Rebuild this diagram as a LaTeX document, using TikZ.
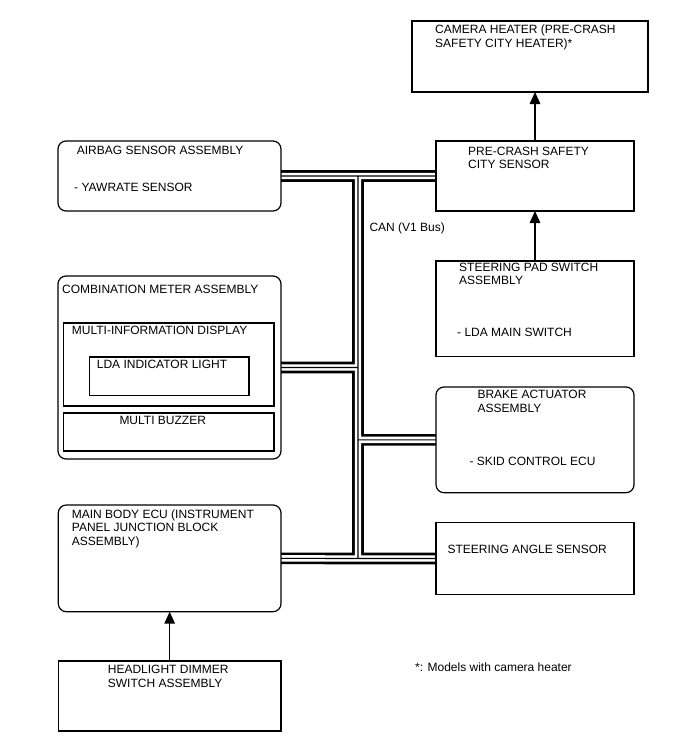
\documentclass[tikz,border=0pt]{standalone}
\usepackage{fontspec}
\setmainfont{Liberation Sans}
\usetikzlibrary{arrows.meta,calc,backgrounds}

\newcommand{\boxfont}{\fontsize{12}{13.4}\selectfont}
\tikzset{
  box/.style={draw, line width=1.2pt, anchor=north west, inner sep=0pt, outer sep=0pt},
  rbox/.style={box, rounded corners=8pt},
  ibox/.style={box, line width=1.6pt},
  txt/.style={anchor=north west, inner sep=0pt, align=left, font=\boxfont},
  arr/.style={-{Triangle[width=10.5pt,length=12pt]}, line width=1.6pt},
}

\begin{document}
\begin{tikzpicture}[x=1pt,y=-1pt]
  \useasboundingbox (0,0) rectangle (688,755);
  % units boxes
  \node[box, minimum width=236pt, minimum height=71pt] (cam) at (412,21) {};
  \node[box, minimum width=198pt, minimum height=70pt] (pre) at (436,141) {};
  \node[rbox, minimum width=223pt, minimum height=70pt] (air) at (58,141) {};
  \node[box, minimum width=198pt, minimum height=95.7pt] (pad) at (436,261) {};
  \node[rbox, minimum width=223pt, minimum height=183pt] (cm) at (58,276) {};
  \node[ibox, minimum width=210.7pt, minimum height=83pt] (mid) at (63.3,322.7) {};
  \node[ibox, minimum width=159.7pt, minimum height=38.6pt] (lda) at (89.3,356.7) {};
  \node[ibox, minimum width=210.7pt, minimum height=38.3pt] (buz) at (63.3,412.7) {};
  \node[rbox, minimum width=198pt, minimum height=105.7pt] (brk) at (436,387) {};
  \node[box, minimum width=198pt, minimum height=71.6pt] (sas) at (436,522.7) {};
  \node[rbox, minimum width=222.7pt, minimum height=106.7pt] (ecu) at (58.3,505) {};
  \node[box, minimum width=222.7pt, minimum height=70pt] (dim) at (58.3,661) {};

  % texts
  \node[txt] (cam-t) at (435,25) {CAMERA HEATER (PRE-CRASH\\SAFETY CITY HEATER)*};
  \node[txt] (pre-t) at (468,146.5) {PRE-CRASH SAFETY\\CITY SENSOR};
  \node[txt] (air-t) at (76.7,145.5) {AIRBAG SENSOR ASSEMBLY};
  \node[txt] (air-s) at (74,183) {- YAWRATE SENSOR};
  \node[txt] (can-t) at (369.3,222.2) {CAN (V1 Bus)};
  \node[txt] (pad-t) at (459,263) {STEERING PAD SWITCH\\ASSEMBLY};
  \node[txt] (pad-s) at (457,327.5) {- LDA MAIN SWITCH};
  \node[txt] (cm-t) at (62,284.5) {COMBINATION METER ASSEMBLY};
  \node[txt] (mid-t) at (71.7,326.2) {MULTI-INFORMATION DISPLAY};
  \node[txt] (lda-t) at (96.7,360.2) {LDA INDICATOR LIGHT};
  \node[txt] (buz-t) at (119.3,416.2) {MULTI BUZZER};
  \node[txt] (brk-t) at (477.3,390.2) {BRAKE ACTUATOR\\ASSEMBLY};
  \node[txt] (brk-s) at (469.3,456.8) {- SKID CONTROL ECU};
  \node[txt] (sas-t) at (447.3,545.2) {STEERING ANGLE SENSOR};
  \node[txt] (ecu-t) at (71.7,509.5) {MAIN BODY ECU (INSTRUMENT\\PANEL JUNCTION BLOCK\\ASSEMBLY)};
  \node[txt] (dim-t) at (107.7,665.2) {HEADLIGHT DIMMER\\SWITCH ASSEMBLY};
  \node[txt] (note) at (415,662.2) {*: Models with camera heater};

  % signal arrows
  \draw[arr] (dim.north) -- (ecu.south);
  \draw[arr] (pad.north) -- (pre.south);
  \draw[arr] (pre.north) -- (pre.north |- cam.south);

  % CAN bus
  \coordinate (trk) at (358,0);
  \begin{scope}[on background layer]
    \foreach \lw/\col in {11.7pt/black, 6.3pt/white, 1.2pt/black}
      \draw[line width=\lw, \col] (air.east) -- (pre.west)
        (air.east -| trk) -- (ecu.east -| trk)
        (cm.east) -- (cm.east -| trk)
        (trk |- brk.west) -- (brk.west)
        (ecu.east) -- (sas.west);
  \end{scope}
\end{tikzpicture}
\end{document}
